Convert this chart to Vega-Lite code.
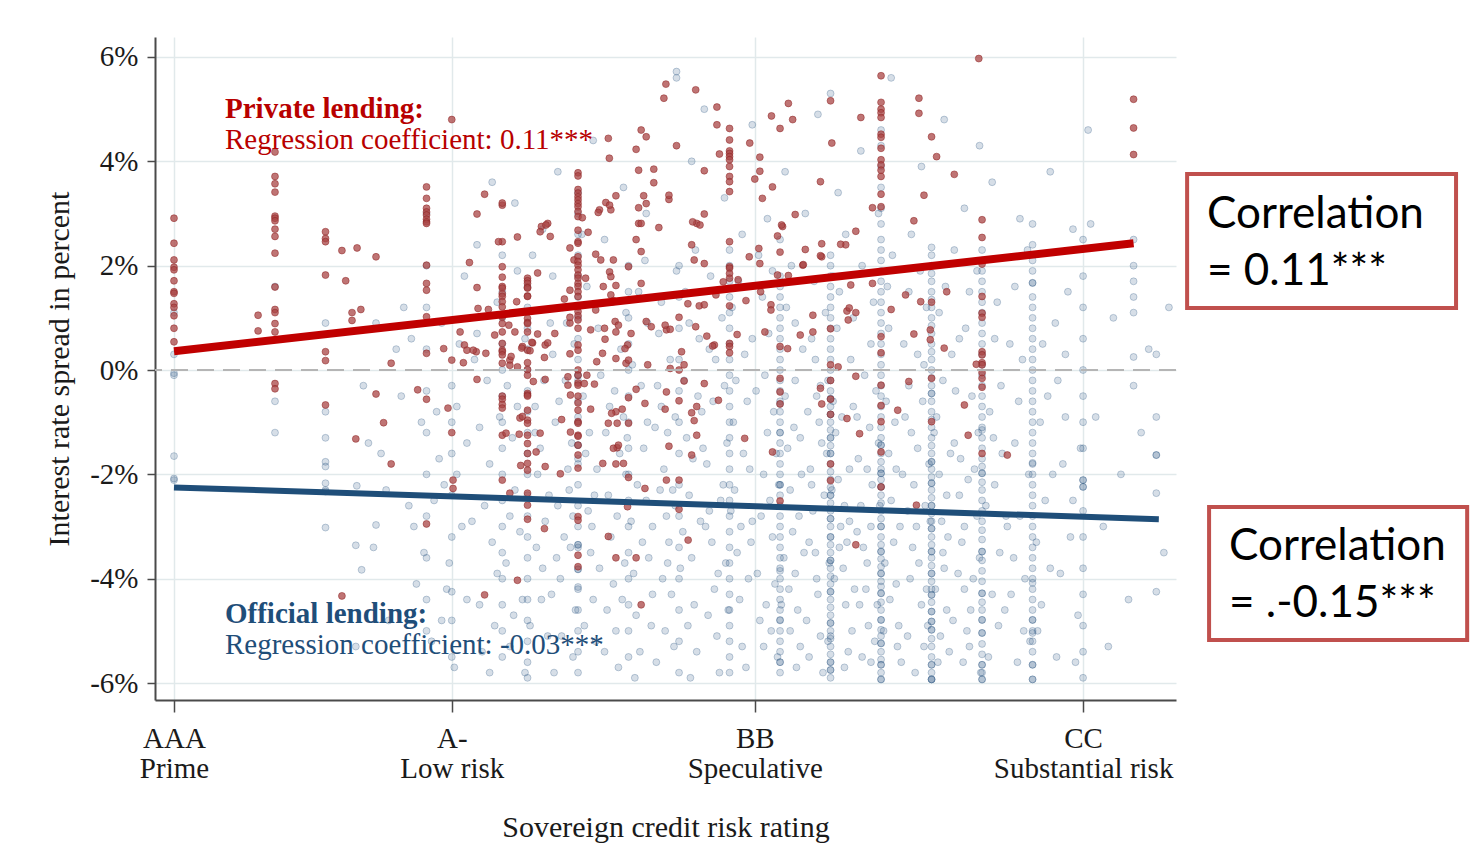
{
  "$schema": "https://vega.github.io/schema/vega-lite/v6.json",
  "width": 1021,
  "height": 663,
  "autosize": {"type": "none"},
  "padding": {"left": 155, "top": 37, "right": 295, "bottom": 148},
  "background": "white",
  "config": {
    "view": {"stroke": null},
    "font": "Liberation Serif",
    "axis": {
      "domainColor": "#4a4a4a", "domainWidth": 2,
      "tickColor": "#4a4a4a", "tickWidth": 1.5,
      "gridColor": "#e1e9eb", "gridWidth": 1.5,
      "labelFont": "Liberation Serif", "labelFontSize": 29, "labelColor": "#1a1a1a",
      "titleFont": "Liberation Serif", "titleFontSize": 30, "titleFontWeight": "normal", "titleColor": "#1a1a1a",
      "labelFlush": false, "labelOverlap": false, "labelBound": false
    },
    "axisX": {"tickSize": 12, "labelPadding": 12, "labelLineHeight": 30, "titlePadding": 29},
    "axisY": {"tickSize": 8, "labelPadding": 9, "titlePadding": 15}
  },
  "datasets": {
    "official": [
      {"x":0,"y":-0.06},{"x":0,"y":-0.1},{"x":0,"y":-1.65},{"x":0,"y":-2.08},{"x":0,"y":-2.11},{"x":0,"y":1.1},{"x":0,"y":0.3},
      {"x":4,"y":-0.6},{"x":4,"y":-1.2},{"x":4,"y":1.6},
      {"x":6,"y":-1.76},{"x":6,"y":-1.85},{"x":6,"y":-2.17},{"x":6,"y":-2.3},{"x":6,"y":-2.33},{"x":6,"y":-3.02},{"x":6,"y":-0.8},{"x":6,"y":-1.3},{"x":6,"y":0.9},
      {"x":7.24,"y":-2.22},{"x":7.2,"y":-3.36},{"x":7.43,"y":-3.83},{"x":8,"y":-2.97},
      {"x":10,"y":3.0},{"x":10,"y":2.0},{"x":10,"y":1.2},{"x":10,"y":0.4},{"x":10,"y":-0.4},{"x":10,"y":-1.2},{"x":10,"y":-2.0},{"x":10,"y":-2.8},{"x":10,"y":-3.6},{"x":10,"y":-4.4},{"x":10,"y":-5.0},
      {"x":11,"y":-0.3},{"x":11,"y":-1.0},{"x":11,"y":-1.6},{"x":11,"y":-2.4},{"x":11,"y":-3.2},{"x":11,"y":-4.25},{"x":11,"y":-4.8},{"x":11,"y":-5.5},
      {"x":13,"y":1.5},{"x":13,"y":1.0},{"x":13,"y":0.5},{"x":13,"y":0.0},{"x":13,"y":-0.5},{"x":13,"y":-1.0},{"x":13,"y":-1.5},{"x":13,"y":-2.0},{"x":13,"y":-2.5},{"x":13,"y":-3.0},{"x":13,"y":-3.5},{"x":13,"y":-4.0},{"x":13,"y":-4.5},{"x":13,"y":-5.0},{"x":13,"y":-5.5},
      {"x":14,"y":1.6},{"x":14,"y":1.2},{"x":14,"y":0.8},{"x":14,"y":0.4},{"x":14,"y":0.0},{"x":14,"y":-0.4},{"x":14,"y":-0.8},{"x":14,"y":-1.2},{"x":14,"y":-1.6},{"x":14,"y":-2.0},{"x":14,"y":-2.4},{"x":14,"y":-2.8},{"x":14,"y":-3.2},{"x":14,"y":-3.6},{"x":14,"y":-4.0},{"x":14,"y":-4.4},{"x":14,"y":-4.8},{"x":14,"y":-5.2},{"x":14,"y":-5.6},{"x":14,"y":-5.9},
      {"x":16,"y":3.4},{"x":16,"y":3.0},{"x":16,"y":2.6},{"x":16,"y":2.2},{"x":16,"y":1.8},{"x":16,"y":1.4},{"x":16,"y":1.0},{"x":16,"y":0.6},{"x":16,"y":0.2},{"x":16,"y":-0.1},{"x":16,"y":-0.1},{"x":16,"y":-0.2},{"x":16,"y":-0.6},{"x":16,"y":-0.9},{"x":16,"y":-1.0},{"x":16,"y":-1.44},{"x":16,"y":-1.44},{"x":16,"y":-1.7},{"x":16,"y":-1.8},{"x":16,"y":-2.2},{"x":16,"y":-2.6},{"x":16,"y":-3.0},{"x":16,"y":-3.35},{"x":16,"y":-3.35},{"x":16,"y":-3.4},{"x":16,"y":-3.82},{"x":16,"y":-3.82},{"x":16,"y":-4.16},{"x":16,"y":-4.2},{"x":16,"y":-4.6},{"x":16,"y":-5.0},{"x":16,"y":-5.4},{"x":16,"y":-5.8},
      {"x":18,"y":2.0},{"x":18,"y":1.5},{"x":18,"y":1.0},{"x":18,"y":0.5},{"x":18,"y":0.0},{"x":18,"y":-0.5},{"x":18,"y":-1.0},{"x":18,"y":-1.5},{"x":18,"y":-2.0},{"x":18,"y":-2.5},{"x":18,"y":-3.0},{"x":18,"y":-3.5},{"x":18,"y":-4.0},{"x":18,"y":-4.5},{"x":18,"y":-5.0},{"x":18,"y":-5.5},
      {"x":20,"y":2.0},{"x":20,"y":1.4},{"x":20,"y":0.8},{"x":20,"y":0.2},{"x":20,"y":-0.4},{"x":20,"y":-1.0},{"x":20,"y":-1.6},{"x":20,"y":-2.2},{"x":20,"y":-2.8},{"x":20,"y":-3.4},{"x":20,"y":-4.0},{"x":20,"y":-4.6},{"x":20,"y":-5.2},{"x":20,"y":-5.8},
      {"x":22,"y":2.3},{"x":22,"y":2.0},{"x":22,"y":1.7},{"x":22,"y":1.4},{"x":22,"y":1.1},{"x":22,"y":0.8},{"x":22,"y":0.5},{"x":22,"y":0.2},{"x":22,"y":-0.1},{"x":22,"y":-0.4},{"x":22,"y":-0.7},{"x":22,"y":-1.0},{"x":22,"y":-1.3},{"x":22,"y":-1.6},{"x":22,"y":-1.9},{"x":22,"y":-2.2},{"x":22,"y":-2.5},{"x":22,"y":-2.8},{"x":22,"y":-3.1},{"x":22,"y":-3.4},{"x":22,"y":-3.7},{"x":22,"y":-4.0},{"x":22,"y":-4.3},{"x":22,"y":-4.6},{"x":22,"y":-4.9},{"x":22,"y":-5.2},{"x":22,"y":-5.5},{"x":22,"y":-5.8},
      {"x":24,"y":1.8},{"x":24,"y":1.6},{"x":24,"y":1.4},{"x":24,"y":1.2},{"x":24,"y":1.0},{"x":24,"y":0.8},{"x":24,"y":0.6},{"x":24,"y":0.4},{"x":24,"y":0.2},{"x":24,"y":0.0},{"x":24,"y":-0.2},{"x":24,"y":-0.4},{"x":24,"y":-0.6},{"x":24,"y":-0.65},{"x":24,"y":-0.8},{"x":24,"y":-1.0},{"x":24,"y":-1.2},{"x":24,"y":-1.2},{"x":24,"y":-1.4},{"x":24,"y":-1.6},{"x":24,"y":-1.8},{"x":24,"y":-2.0},{"x":24,"y":-2.2},{"x":24,"y":-2.2},{"x":24,"y":-2.4},{"x":24,"y":-2.6},{"x":24,"y":-2.8},{"x":24,"y":-3.0},{"x":24,"y":-3.2},{"x":24,"y":-3.4},{"x":24,"y":-3.6},{"x":24,"y":-3.8},{"x":24,"y":-3.85},{"x":24,"y":-4.0},{"x":24,"y":-4.2},{"x":24,"y":-4.4},{"x":24,"y":-4.6},{"x":24,"y":-4.79},{"x":24,"y":-4.8},{"x":24,"y":-5.0},{"x":24,"y":-5.2},{"x":24,"y":-5.4},{"x":24,"y":-5.6},{"x":24,"y":-5.6},{"x":24,"y":-5.8},
      {"x":26,"y":2.2},{"x":26,"y":2.0},{"x":26,"y":1.8},{"x":26,"y":1.6},{"x":26,"y":1.4},{"x":26,"y":1.2},{"x":26,"y":1.0},{"x":26,"y":0.8},{"x":26,"y":0.6},{"x":26,"y":0.4},{"x":26,"y":0.2},{"x":26,"y":0.0},{"x":26,"y":-0.2},{"x":26,"y":-0.4},{"x":26,"y":-0.55},{"x":26,"y":-0.55},{"x":26,"y":-0.7},{"x":26,"y":-0.85},{"x":26,"y":-0.85},{"x":26,"y":-1.0},{"x":26,"y":-1.15},{"x":26,"y":-1.3},{"x":26,"y":-1.3},{"x":26,"y":-1.45},{"x":26,"y":-1.6},{"x":26,"y":-1.6},{"x":26,"y":-1.8},{"x":26,"y":-1.95},{"x":26,"y":-2.1},{"x":26,"y":-2.25},{"x":26,"y":-2.4},{"x":26,"y":-2.4},{"x":26,"y":-2.55},{"x":26,"y":-2.7},{"x":26,"y":-2.85},{"x":26,"y":-2.85},{"x":26,"y":-3.0},{"x":26,"y":-3.2},{"x":26,"y":-3.2},{"x":26,"y":-3.35},{"x":26,"y":-3.5},{"x":26,"y":-3.65},{"x":26,"y":-3.65},{"x":26,"y":-3.8},{"x":26,"y":-3.95},{"x":26,"y":-4.1},{"x":26,"y":-4.25},{"x":26,"y":-4.25},{"x":26,"y":-4.4},{"x":26,"y":-4.55},{"x":26,"y":-4.7},{"x":26,"y":-4.85},{"x":26,"y":-4.85},{"x":26,"y":-5.0},{"x":26,"y":-5.1},{"x":26,"y":-5.15},{"x":26,"y":-5.3},{"x":26,"y":-5.45},{"x":26,"y":-5.6},{"x":26,"y":-5.6},{"x":26,"y":-5.75},{"x":26,"y":-5.75},{"x":26,"y":-5.9},
      {"x":28,"y":4.6},{"x":28,"y":4.3},{"x":28,"y":3.9},{"x":28,"y":3.5},{"x":28,"y":3.1},{"x":28,"y":2.8},{"x":28,"y":2.5},{"x":28,"y":2.3},{"x":28,"y":2.1},{"x":28,"y":1.9},{"x":28,"y":1.7},{"x":28,"y":1.5},{"x":28,"y":1.3},{"x":28,"y":1.1},{"x":28,"y":0.9},{"x":28,"y":0.7},{"x":28,"y":0.5},{"x":28,"y":0.3},{"x":28,"y":0.1},{"x":28,"y":-0.1},{"x":28,"y":-0.3},{"x":28,"y":-0.5},{"x":28,"y":-0.7},{"x":28,"y":-0.9},{"x":28,"y":-1.1},{"x":28,"y":-1.3},{"x":28,"y":-1.44},{"x":28,"y":-1.44},{"x":28,"y":-1.6},{"x":28,"y":-1.76},{"x":28,"y":-1.9},{"x":28,"y":-1.98},{"x":28,"y":-1.98},{"x":28,"y":-2.1},{"x":28,"y":-2.24},{"x":28,"y":-2.24},{"x":28,"y":-2.4},{"x":28,"y":-2.55},{"x":28,"y":-2.7},{"x":28,"y":-2.85},{"x":28,"y":-3.0},{"x":28,"y":-3.0},{"x":28,"y":-3.2},{"x":28,"y":-3.35},{"x":28,"y":-3.48},{"x":28,"y":-3.48},{"x":28,"y":-3.62},{"x":28,"y":-3.77},{"x":28,"y":-3.9},{"x":28,"y":-3.9},{"x":28,"y":-4.05},{"x":28,"y":-4.15},{"x":28,"y":-4.28},{"x":28,"y":-4.28},{"x":28,"y":-4.45},{"x":28,"y":-4.6},{"x":28,"y":-4.79},{"x":28,"y":-4.79},{"x":28,"y":-4.98},{"x":28,"y":-5.1},{"x":28,"y":-5.24},{"x":28,"y":-5.24},{"x":28,"y":-5.4},{"x":28,"y":-5.55},{"x":28,"y":-5.65},{"x":28,"y":-5.65},{"x":28,"y":-5.8},{"x":28,"y":-5.93},{"x":28,"y":-5.93},
      {"x":30,"y":2.35},{"x":30,"y":2.2},{"x":30,"y":2.0},{"x":30,"y":1.85},{"x":30,"y":1.7},{"x":30,"y":1.5},{"x":30,"y":1.35},{"x":30,"y":1.2},{"x":30,"y":1.0},{"x":30,"y":0.85},{"x":30,"y":0.7},{"x":30,"y":0.5},{"x":30,"y":0.35},{"x":30,"y":0.2},{"x":30,"y":0.0},{"x":30,"y":-0.15},{"x":30,"y":-0.3},{"x":30,"y":-0.45},{"x":30,"y":-0.45},{"x":30,"y":-0.6},{"x":30,"y":-0.8},{"x":30,"y":-0.95},{"x":30,"y":-1.1},{"x":30,"y":-1.3},{"x":30,"y":-1.45},{"x":30,"y":-1.6},{"x":30,"y":-1.76},{"x":30,"y":-1.76},{"x":30,"y":-1.9},{"x":30,"y":-2.05},{"x":30,"y":-2.17},{"x":30,"y":-2.17},{"x":30,"y":-2.3},{"x":30,"y":-2.45},{"x":30,"y":-2.6},{"x":30,"y":-2.6},{"x":30,"y":-2.75},{"x":30,"y":-2.9},{"x":30,"y":-3.04},{"x":30,"y":-3.04},{"x":30,"y":-3.2},{"x":30,"y":-3.35},{"x":30,"y":-3.48},{"x":30,"y":-3.48},{"x":30,"y":-3.6},{"x":30,"y":-3.75},{"x":30,"y":-3.9},{"x":30,"y":-3.9},{"x":30,"y":-4.05},{"x":30,"y":-4.2},{"x":30,"y":-4.31},{"x":30,"y":-4.31},{"x":30,"y":-4.45},{"x":30,"y":-4.63},{"x":30,"y":-4.63},{"x":30,"y":-4.82},{"x":30,"y":-4.82},{"x":30,"y":-4.98},{"x":30,"y":-4.98},{"x":30,"y":-5.15},{"x":30,"y":-5.3},{"x":30,"y":-5.5},{"x":30,"y":-5.65},{"x":30,"y":-5.65},{"x":30,"y":-5.8},{"x":30,"y":-5.93},{"x":30,"y":-5.93},{"x":30,"y":-5.93},
      {"x":32,"y":2.3},{"x":32,"y":2.1},{"x":32,"y":1.9},{"x":32,"y":1.7},{"x":32,"y":1.5},{"x":32,"y":1.3},{"x":32,"y":1.1},{"x":32,"y":0.9},{"x":32,"y":0.7},{"x":32,"y":0.5},{"x":32,"y":0.3},{"x":32,"y":0.1},{"x":32,"y":-0.1},{"x":32,"y":-0.3},{"x":32,"y":-0.5},{"x":32,"y":-0.7},{"x":32,"y":-0.9},{"x":32,"y":-1.1},{"x":32,"y":-1.15},{"x":32,"y":-1.3},{"x":32,"y":-1.5},{"x":32,"y":-1.7},{"x":32,"y":-1.85},{"x":32,"y":-1.98},{"x":32,"y":-1.98},{"x":32,"y":-2.15},{"x":32,"y":-2.3},{"x":32,"y":-2.5},{"x":32,"y":-2.7},{"x":32,"y":-2.9},{"x":32,"y":-3.07},{"x":32,"y":-3.25},{"x":32,"y":-3.48},{"x":32,"y":-3.48},{"x":32,"y":-3.65},{"x":32,"y":-3.85},{"x":32,"y":-4.05},{"x":32,"y":-4.28},{"x":32,"y":-4.28},{"x":32,"y":-4.45},{"x":32,"y":-4.6},{"x":32,"y":-4.79},{"x":32,"y":-4.79},{"x":32,"y":-5.04},{"x":32,"y":-5.04},{"x":32,"y":-5.25},{"x":32,"y":-5.45},{"x":32,"y":-5.65},{"x":32,"y":-5.65},{"x":32,"y":-5.8},{"x":32,"y":-5.93},{"x":32,"y":-5.93},
      {"x":34,"y":2.8},{"x":34,"y":2.4},{"x":34,"y":2.1},{"x":34,"y":1.9},{"x":34,"y":1.67},{"x":34,"y":1.67},{"x":34,"y":1.4},{"x":34,"y":1.2},{"x":34,"y":1.0},{"x":34,"y":0.8},{"x":34,"y":0.6},{"x":34,"y":0.4},{"x":34,"y":0.2},{"x":34,"y":0.0},{"x":34,"y":-0.2},{"x":34,"y":-0.4},{"x":34,"y":-0.6},{"x":34,"y":-0.8},{"x":34,"y":-1.0},{"x":34,"y":-1.2},{"x":34,"y":-1.4},{"x":34,"y":-1.6},{"x":34,"y":-1.78},{"x":34,"y":-1.8},{"x":34,"y":-2.0},{"x":34,"y":-2.2},{"x":34,"y":-2.4},{"x":34,"y":-2.6},{"x":34,"y":-2.8},{"x":34,"y":-3.0},{"x":34,"y":-3.2},{"x":34,"y":-3.4},{"x":34,"y":-3.6},{"x":34,"y":-3.8},{"x":34,"y":-4.0},{"x":34,"y":-4.08},{"x":34,"y":-4.2},{"x":34,"y":-4.4},{"x":34,"y":-4.6},{"x":34,"y":-4.79},{"x":34,"y":-4.79},{"x":34,"y":-5.0},{"x":34,"y":-5.04},{"x":34,"y":-5.2},{"x":34,"y":-5.4},{"x":34,"y":-5.65},{"x":34,"y":-5.65},{"x":34,"y":-5.93},{"x":34,"y":-5.93},
      {"x":36,"y":2.5},{"x":36,"y":1.8},{"x":36,"y":1.2},{"x":36,"y":0.6},{"x":36,"y":0.0},{"x":36,"y":-0.5},{"x":36,"y":-1.0},{"x":36,"y":-1.5},{"x":36,"y":-2.11},{"x":36,"y":-2.11},{"x":36,"y":-2.24},{"x":36,"y":-2.24},{"x":36,"y":-2.7},{"x":36,"y":-3.2},{"x":36,"y":-3.8},{"x":36,"y":-4.3},{"x":36,"y":-4.9},{"x":36,"y":-5.4},{"x":36,"y":-5.9},
      {"x":38,"y":2.0},{"x":38,"y":1.7},{"x":38,"y":1.4},{"x":38,"y":1.1},{"x":38,"y":0.25},{"x":38,"y":-0.3},
      {"x":38.9,"y":-1.63},{"x":38.9,"y":-1.63},{"x":38.9,"y":-2.36},{"x":38.9,"y":-4.25},{"x":38.9,"y":0.3},{"x":38.9,"y":-0.9},
      {"x":7.5,"y":-0.3},{"x":8.2,"y":-1.6},{"x":8.8,"y":0.4},{"x":9.3,"y":-2.6},{"x":7.9,"y":-3.4},{"x":9.6,"y":-4.1},{"x":8.5,"y":-4.8},{"x":9.1,"y":1.2},{"x":7.2,"y":-5.3},{"x":9.8,"y":-1.0},{"x":8.0,"y":0.9},{"x":9.5,"y":-3.0},
      {"x":8.4,"y":-2.3},{"x":9.0,"y":-0.5},{"x":9.9,"y":-3.5},{"x":10.3,"y":-2.5},{"x":10.6,"y":-4.8},{"x":9.4,"y":0.6},{"x":7.7,"y":-1.4},
      {"x":10.4,"y":-0.8},{"x":10.7,"y":-2.2},{"x":10.9,"y":-3.7},{"x":11.3,"y":0.5},{"x":11.6,"y":-1.4},{"x":11.8,"y":-2.9},{"x":12.1,"y":-4.5},{"x":12.4,"y":-0.2},{"x":12.6,"y":-3.3},{"x":12.8,"y":1.3},{"x":10.2,"y":-5.2},{"x":11.1,"y":-5.7},{"x":12.2,"y":-5.4},{"x":11.5,"y":1.8},{"x":12.5,"y":-1.8},{"x":10.6,"y":0.9},{"x":11.9,"y":0.2},{"x":12.3,"y":-2.6},{"x":10.8,"y":-4.2},{"x":11.4,"y":-3.0},{"x":12.7,"y":-4.9},{"x":12.0,"y":2.4},{"x":11.2,"y":-0.7},{"x":10.5,"y":-1.7},{"x":12.9,"y":-0.9},
      {"x":11.2,"y":-2.0},{"x":11.6,"y":-4.4},{"x":12.1,"y":-1.1},{"x":12.5,"y":-5.8},{"x":12.8,"y":-3.9},{"x":13.3,"y":-2.8},{"x":13.6,"y":-0.7},{"x":13.9,"y":-5.8},{"x":14.3,"y":-1.2},{"x":14.55,"y":-4.4},{"x":14.85,"y":-2.4},{"x":15.15,"y":-3.6},{"x":15.35,"y":-5.1},{"x":15.55,"y":0.9},{"x":15.8,"y":-2.8},{"x":16.25,"y":-4.9},{"x":16.45,"y":-1.2},{"x":16.65,"y":-2.4},{"x":16.85,"y":-3.8},{"x":17.05,"y":-5.4},{"x":17.25,"y":-0.7},{"x":17.55,"y":-2.8},{"x":17.75,"y":-4.4},{"x":17.95,"y":-1.3},{"x":18.25,"y":-5.9},{"x":18.55,"y":-3.3},{"x":18.75,"y":-1.0},{"x":18.95,"y":-4.3},{"x":19.25,"y":-2.3},{"x":19.55,"y":-3.7},{"x":19.85,"y":-0.9},{"x":12.0,"y":0.7},{"x":13.0,"y":2.2},{"x":15.0,"y":1.8},{"x":17.9,"y":1.1},{"x":19.3,"y":1.3},
      {"x":13.2,"y":-0.3},{"x":13.4,"y":-1.3},{"x":13.5,"y":-2.3},{"x":13.7,"y":-3.1},{"x":13.8,"y":-4.4},{"x":13.9,"y":0.6},{"x":14.3,"y":-0.7},{"x":14.4,"y":-2.0},{"x":14.6,"y":-3.8},{"x":14.8,"y":-5.1},{"x":15.0,"y":0.3},{"x":15.1,"y":-1.0},{"x":15.2,"y":-2.6},{"x":15.3,"y":-4.0},{"x":15.4,"y":1.2},{"x":15.5,"y":-0.2},{"x":15.6,"y":-1.9},{"x":15.7,"y":-3.4},{"x":15.8,"y":-5.5},{"x":15.9,"y":-4.6},{"x":13.3,"y":-5.3},{"x":13.6,"y":1.9},{"x":14.1,"y":-4.9},{"x":14.2,"y":2.2},{"x":14.5,"y":-1.5},{"x":14.7,"y":-2.9},{"x":14.9,"y":0.9},{"x":15.25,"y":-0.6},{"x":15.45,"y":-3.2},{"x":15.75,"y":-1.4},{"x":13.15,"y":-3.7},{"x":13.45,"y":-4.7},{"x":14.35,"y":-3.4},{"x":14.65,"y":-0.2},{"x":14.95,"y":-4.3},{"x":15.05,"y":-5.8},{"x":15.65,"y":-2.3},{"x":15.85,"y":0.5},
      {"x":16.2,"y":-0.5},{"x":16.3,"y":-1.6},{"x":16.4,"y":-2.7},{"x":16.5,"y":-3.5},{"x":16.6,"y":-4.4},{"x":16.7,"y":-5.2},{"x":16.8,"y":0.8},{"x":16.9,"y":-0.1},{"x":17.1,"y":-1.2},{"x":17.2,"y":-2.4},{"x":17.3,"y":-3.2},{"x":17.4,"y":-4.1},{"x":17.5,"y":-5.0},{"x":17.6,"y":-5.7},{"x":17.7,"y":0.4},{"x":17.8,"y":-0.9},{"x":17.9,"y":-2.0},{"x":18.1,"y":-2.9},{"x":18.2,"y":-3.9},{"x":18.3,"y":-4.7},{"x":18.4,"y":1.5},{"x":18.5,"y":-0.3},{"x":18.6,"y":-1.5},{"x":18.7,"y":-2.5},{"x":18.8,"y":-3.6},{"x":18.9,"y":-4.9},{"x":19.1,"y":-5.6},{"x":19.2,"y":0.7},{"x":19.3,"y":-0.7},{"x":19.4,"y":-1.9},{"x":19.5,"y":-2.8},{"x":19.6,"y":-3.3},{"x":19.7,"y":-4.3},{"x":19.8,"y":-5.3},{"x":19.9,"y":1.9},{"x":16.35,"y":1.6},{"x":16.75,"y":-1.9},{"x":17.05,"y":2.5},{"x":17.45,"y":-0.4},{"x":17.85,"y":-3.7},{"x":18.15,"y":0.1},{"x":18.45,"y":-5.4},{"x":18.75,"y":0.9},{"x":19.05,"y":-1.1},{"x":19.35,"y":-4.0},{"x":19.65,"y":0.2},{"x":16.55,"y":-3.0},{"x":17.15,"y":-4.6},{"x":17.65,"y":-1.6},{"x":18.35,"y":-2.2},{"x":18.95,"y":-3.0},{"x":19.45,"y":-5.0},{"x":16.15,"y":2.6},{"x":17.35,"y":1.3},{"x":18.65,"y":2.1},{"x":19.75,"y":-2.3},
      {"x":19.15,"y":-0.3},{"x":19.55,"y":-1.2},{"x":19.85,"y":-2.6},{"x":20.05,"y":-3.8},{"x":20.35,"y":-4.9},{"x":20.75,"y":-0.5},{"x":20.95,"y":-1.5},{"x":21.05,"y":-3.0},{"x":21.55,"y":-3.9},{"x":21.65,"y":-2.5},{"x":21.95,"y":-4.6},{"x":22.25,"y":-0.2},{"x":22.55,"y":-1.6},{"x":22.85,"y":-3.3},{"x":23.35,"y":-5.3},{"x":23.75,"y":-0.8},{"x":23.95,"y":-2.2},{"x":24.05,"y":-4.5},{"x":24.4,"y":-5.0},{"x":24.6,"y":-0.2},{"x":24.8,"y":-1.3},{"x":24.95,"y":-3.5},{"x":25.15,"y":-5.5},{"x":25.25,"y":-2.2},{"x":25.45,"y":-4.0},{"x":25.6,"y":-0.3},{"x":25.85,"y":-1.6},{"x":25.9,"y":-5.2},{"x":26.1,"y":-0.6},{"x":26.35,"y":-3.4},{"x":26.55,"y":-5.7},{"x":26.75,"y":-2.9},{"x":26.95,"y":-4.2},{"x":27.05,"y":-0.9},{"x":27.25,"y":-5.5},{"x":27.45,"y":-1.9},{"x":27.6,"y":-3.0},{"x":27.85,"y":-4.5},{"x":27.95,"y":-2.6},{"x":28.1,"y":-5.0},{"x":28.35,"y":-4.4},{"x":28.6,"y":-1.9},{"x":28.75,"y":-3.0},{"x":28.95,"y":-0.9},{"x":29.05,"y":-5.1},{"x":29.25,"y":-3.4},{"x":29.45,"y":-1.5},{"x":29.65,"y":-0.6},{"x":29.8,"y":-4.2},{"x":29.95,"y":-2.9},{"x":30.1,"y":-1.2},{"x":30.25,"y":-5.6},{"x":30.45,"y":-3.5},{"x":30.6,"y":-2.4},{"x":30.85,"y":-4.8},{"x":30.95,"y":-0.4},{"x":31.15,"y":-1.7},{"x":31.3,"y":-3.0},{"x":31.5,"y":-5.3},{"x":31.65,"y":-4.0},{"x":31.85,"y":-1.2},{"x":31.95,"y":-5.8},{"x":32.15,"y":-2.6},{"x":32.25,"y":-5.5},{"x":32.45,"y":-1.3},{"x":32.65,"y":-4.9},{"x":32.75,"y":-0.3},{"x":32.95,"y":-2.8},{"x":33.15,"y":-4.3},{"x":33.25,"y":-3.6},{"x":33.45,"y":-0.6},{"x":33.65,"y":-5.0},{"x":33.85,"y":-2.0},{"x":34.15,"y":-3.3},{"x":34.35,"y":-4.5},{"x":34.6,"y":-0.5},{"x":34.8,"y":-2.0},{"x":34.95,"y":-5.5},{"x":35.1,"y":-3.9},{"x":35.3,"y":-0.9},{"x":35.7,"y":-5.6},{"x":35.9,"y":-1.5},
      {"x":20.4,"y":0.9},{"x":21.2,"y":0.4},{"x":22.1,"y":1.2},{"x":22.9,"y":0.6},{"x":23.7,"y":1.9},{"x":24.6,"y":0.9},{"x":25.4,"y":0.2},{"x":26.1,"y":1.8},{"x":26.9,"y":1.0},{"x":27.6,"y":0.5},{"x":28.3,"y":0.8},{"x":29.1,"y":1.5},{"x":29.7,"y":0.1},{"x":30.3,"y":1.1},{"x":31.1,"y":0.6},{"x":31.8,"y":1.9},{"x":32.5,"y":0.6},{"x":33.3,"y":1.6},{"x":34.4,"y":0.5},{"x":35.3,"y":0.3},{"x":24.0,"y":2.5},{"x":26.6,"y":2.6},{"x":30.9,"y":2.3},{"x":33.8,"y":2.3},{"x":22.5,"y":2.6},
      {"x":20.2,"y":-0.2},{"x":20.3,"y":-1.3},{"x":20.4,"y":-2.4},{"x":20.5,"y":-3.6},{"x":20.6,"y":-4.5},{"x":20.7,"y":-5.4},{"x":20.8,"y":0.6},{"x":20.9,"y":-0.8},{"x":21.1,"y":-1.8},{"x":21.2,"y":-2.7},{"x":21.3,"y":-3.3},{"x":21.4,"y":-4.2},{"x":21.5,"y":-5.1},{"x":21.6,"y":-5.8},{"x":21.7,"y":1.0},{"x":21.8,"y":-0.3},{"x":21.9,"y":-1.4},{"x":22.2,"y":-2.3},{"x":22.3,"y":-3.5},{"x":22.4,"y":-4.4},{"x":22.5,"y":-5.3},{"x":22.6,"y":0.3},{"x":22.7,"y":-0.6},{"x":22.8,"y":-1.9},{"x":22.9,"y":-2.9},{"x":23.1,"y":-3.9},{"x":23.2,"y":-4.8},{"x":23.3,"y":1.4},{"x":23.4,"y":-0.1},{"x":23.5,"y":-1.2},{"x":23.6,"y":-2.5},{"x":23.7,"y":-3.2},{"x":23.8,"y":-4.1},{"x":23.9,"y":-5.5},{"x":20.25,"y":1.5},{"x":20.55,"y":-1.7},{"x":20.85,"y":-2.9},{"x":21.15,"y":-4.7},{"x":21.45,"y":0.2},{"x":21.75,"y":-2.2},{"x":22.15,"y":-1.0},{"x":22.45,"y":-3.0},{"x":22.75,"y":-4.0},{"x":23.05,"y":-0.4},{"x":23.35,"y":-2.0},{"x":23.65,"y":-5.0},{"x":20.65,"y":2.3},{"x":21.25,"y":1.8},{"x":22.35,"y":1.7},{"x":23.15,"y":2.2},{"x":23.55,"y":0.7},{"x":20.45,"y":-5.9},{"x":21.85,"y":-3.7},{"x":22.65,"y":-5.7},{"x":23.45,"y":-4.5},{"x":20.15,"y":-3.1},{"x":21.35,"y":-0.6},{"x":22.05,"y":-2.7},{"x":23.25,"y":-2.8},{"x":23.85,"y":-1.6},
      {"x":24.2,"y":-0.5},{"x":24.3,"y":-1.5},{"x":24.4,"y":-2.3},{"x":24.5,"y":-3.1},{"x":24.6,"y":-3.9},{"x":24.7,"y":-4.6},{"x":24.8,"y":-5.3},{"x":24.9,"y":0.4},{"x":25.1,"y":-0.8},{"x":25.2,"y":-1.9},{"x":25.3,"y":-2.7},{"x":25.4,"y":-3.5},{"x":25.5,"y":-4.3},{"x":25.6,"y":-5.1},{"x":25.7,"y":-5.8},{"x":25.8,"y":1.1},{"x":25.9,"y":-0.2},{"x":26.2,"y":-1.2},{"x":26.3,"y":-2.1},{"x":26.4,"y":-3.0},{"x":26.5,"y":-3.8},{"x":26.6,"y":-4.5},{"x":26.7,"y":-5.4},{"x":26.8,"y":0.2},{"x":26.9,"y":-0.7},{"x":27.1,"y":-1.7},{"x":27.2,"y":-2.6},{"x":27.3,"y":-3.4},{"x":27.4,"y":-4.2},{"x":27.5,"y":-4.9},{"x":27.6,"y":-5.6},{"x":27.7,"y":1.3},{"x":27.8,"y":-0.4},{"x":27.9,"y":-1.4},{"x":24.25,"y":1.2},{"x":24.55,"y":-1.1},{"x":24.85,"y":-2.0},{"x":25.15,"y":-3.3},{"x":25.45,"y":-0.5},{"x":25.75,"y":-2.4},{"x":26.15,"y":-4.0},{"x":26.45,"y":-0.9},{"x":26.75,"y":-1.9},{"x":27.05,"y":-3.1},{"x":27.35,"y":-0.1},{"x":27.65,"y":-2.2},{"x":24.35,"y":-4.2},{"x":24.65,"y":-5.7},{"x":25.05,"y":-4.8},{"x":25.35,"y":1.7},{"x":25.65,"y":-1.4},{"x":25.95,"y":-3.7},{"x":26.25,"y":0.8},{"x":26.55,"y":-2.6},{"x":26.85,"y":-5.0},{"x":27.15,"y":-4.5},{"x":27.45,"y":-3.7},{"x":27.75,"y":-5.2},{"x":24.45,"y":2.0},{"x":25.25,"y":0.6},{"x":26.35,"y":1.5},{"x":27.25,"y":2.0},{"x":24.15,"y":-3.6},{"x":24.75,"y":-2.8},{"x":25.55,"y":-1.0},{"x":26.05,"y":-2.3},{"x":26.65,"y":-3.3},{"x":27.55,"y":-1.1},
      {"x":28.2,"y":-0.6},{"x":28.3,"y":-1.6},{"x":28.4,"y":-2.5},{"x":28.5,"y":-3.3},{"x":28.6,"y":-4.1},{"x":28.7,"y":-4.9},{"x":28.8,"y":-5.6},{"x":28.9,"y":0.5},{"x":29.1,"y":-0.3},{"x":29.2,"y":-1.2},{"x":29.3,"y":-2.2},{"x":29.4,"y":-3.0},{"x":29.5,"y":-3.7},{"x":29.6,"y":-4.5},{"x":29.7,"y":-5.3},{"x":29.8,"y":1.2},{"x":29.9,"y":-1.8},{"x":30.2,"y":-0.9},{"x":30.3,"y":-2.0},{"x":30.4,"y":-2.9},{"x":30.5,"y":-3.8},{"x":30.6,"y":-4.6},{"x":30.7,"y":-5.4},{"x":30.8,"y":0.3},{"x":30.9,"y":-1.4},{"x":31.1,"y":-2.4},{"x":31.2,"y":-3.3},{"x":31.3,"y":-4.2},{"x":31.4,"y":-5.0},{"x":31.6,"y":-0.5},{"x":31.7,"y":-1.9},{"x":31.8,"y":-2.8},{"x":31.9,"y":-3.6},{"x":28.25,"y":1.6},{"x":28.55,"y":-1.0},{"x":28.85,"y":-2.0},{"x":29.15,"y":-4.0},{"x":29.45,"y":0.3},{"x":29.75,"y":-2.6},{"x":30.15,"y":-4.2},{"x":30.45,"y":-0.2},{"x":30.75,"y":-1.6},{"x":31.05,"y":-3.9},{"x":31.35,"y":0.8},{"x":31.55,"y":-4.6},{"x":28.45,"y":2.2},{"x":29.55,"y":1.9},{"x":30.55,"y":1.6},{"x":31.5,"y":1.5},{"x":28.65,"y":-5.3},{"x":29.35,"y":-5.8},{"x":30.35,"y":-5.1},{"x":31.25,"y":-5.6},{"x":28.15,"y":-3.7},{"x":29.05,"y":-2.7},{"x":29.85,"y":-4.9},{"x":30.65,"y":-3.2},{"x":31.45,"y":-2.1},
      {"x":32.3,"y":-0.8},{"x":32.5,"y":-2.2},{"x":32.7,"y":-3.5},{"x":32.9,"y":-4.6},{"x":33.1,"y":0.5},{"x":33.3,"y":-1.4},{"x":33.5,"y":-2.8},{"x":33.7,"y":-4.0},{"x":33.9,"y":-5.2},{"x":34.3,"y":-1.0},{"x":34.5,"y":-2.5},{"x":34.7,"y":-3.8},{"x":34.9,"y":0.9},{"x":35.2,"y":-1.8},{"x":35.5,"y":-3.2},{"x":35.8,"y":-4.7},{"x":32.6,"y":1.3},{"x":33.4,"y":-5.6},{"x":34.2,"y":-5.0},{"x":35.0,"y":-0.2},{"x":35.4,"y":1.5},{"x":32.8,"y":-1.6},{"x":33.6,"y":0.2},{"x":35.6,"y":-2.5},{"x":33.0,"y":-3.0},{"x":32.4,"y":-4.3},
      {"x":36.5,"y":-0.9},{"x":36.8,"y":-3.0},{"x":37.2,"y":1.0},{"x":37.5,"y":-2.0},{"x":37.8,"y":-4.4},{"x":38.3,"y":-1.2},{"x":38.6,"y":0.4},{"x":39.2,"y":-3.5},{"x":39.4,"y":1.2},{"x":37.0,"y":-5.3},{"x":36.3,"y":2.8},{"x":38.0,"y":2.5},
      {"x":13.5,"y":3.2},{"x":15.2,"y":3.8},{"x":16.6,"y":4.4},{"x":17.8,"y":3.5},{"x":19.9,"y":5.72},{"x":19.9,"y":5.6},{"x":20.5,"y":4.0},{"x":21.8,"y":3.3},{"x":22.9,"y":4.7},{"x":24.2,"y":3.8},{"x":25.5,"y":4.9},{"x":26.3,"y":3.4},{"x":27.2,"y":4.2},{"x":28.4,"y":5.6},{"x":29.6,"y":3.9},{"x":30.5,"y":4.8},{"x":31.3,"y":3.1},{"x":32.4,"y":3.6},{"x":33.5,"y":2.9},{"x":34.7,"y":3.8},{"x":35.6,"y":2.7},{"x":36.2,"y":4.6},{"x":23.5,"y":2.9},{"x":18.7,"y":3.0},{"x":14.6,"y":2.7},{"x":12.6,"y":3.6},{"x":25.0,"y":3.0},{"x":27.9,"y":3.0},{"x":29.2,"y":2.6},{"x":31.9,"y":4.3},{"x":26.0,"y":5.3},{"x":21.0,"y":5.0}
    ],
    "private": [
      {"x":0,"y":2.91},{"x":0,"y":2.43},{"x":0,"y":2.11},{"x":0,"y":1.97},{"x":0,"y":1.92},{"x":0,"y":1.71},{"x":0,"y":1.5},{"x":0,"y":1.47},{"x":0,"y":1.27},{"x":0,"y":1.2},{"x":0,"y":1.04},{"x":0,"y":0.8},{"x":0,"y":0.54},
      {"x":4,"y":4.18},{"x":4,"y":3.71},{"x":4,"y":3.57},{"x":4,"y":3.41},{"x":4,"y":2.95},{"x":4,"y":2.91},{"x":4,"y":2.86},{"x":4,"y":2.7},{"x":4,"y":2.56},{"x":4,"y":2.24},{"x":4,"y":1.59},{"x":4,"y":1.16},{"x":4,"y":1.1},{"x":4,"y":0.89},{"x":4,"y":0.73},{"x":4,"y":-0.26},{"x":4,"y":-0.36},
      {"x":6,"y":2.65},{"x":6,"y":2.52},{"x":6,"y":2.46},{"x":6,"y":1.82},{"x":6,"y":0.35},{"x":6,"y":0.18},{"x":6,"y":-0.67},
      {"x":3.33,"y":1.05},{"x":3.33,"y":0.75},{"x":6.65,"y":2.29},{"x":7.25,"y":2.34},{"x":8,"y":2.17},{"x":6.8,"y":1.71},{"x":7.05,"y":1.1},{"x":7.4,"y":1.16},{"x":7.05,"y":0.95},{"x":8.6,"y":0.13},{"x":7.2,"y":-1.32},{"x":8,"y":-0.46},{"x":8.3,"y":-1.01},{"x":8.6,"y":-1.8},{"x":6.65,"y":-4.33},{"x":9.65,"y":-0.38},{"x":10,"y":-0.56},{"x":10,"y":-2.95},
      {"x":10,"y":3.51},{"x":10,"y":3.29},{"x":10,"y":3.1},{"x":10,"y":3.03},{"x":10,"y":2.97},{"x":10,"y":2.89},{"x":10,"y":2.84},{"x":10,"y":2.81},{"x":10,"y":2.01},{"x":10,"y":1.66},{"x":10,"y":1.53},{"x":10,"y":1.02},{"x":10,"y":0.32},
      {"x":11,"y":4.8},{"x":11.7,"y":2.06},{"x":12,"y":2.99},{"x":12.3,"y":3.37},{"x":11,"y":-1.2},{"x":11.05,"y":-2.11},{"x":11.05,"y":-2.27},{"x":10.85,"y":-0.73},{"x":12.04,"y":1.18},{"x":12.45,"y":1.16},{"x":12.7,"y":0.67},{"x":11.33,"y":0.73},{"x":10.68,"y":0.41},{"x":11.5,"y":0.48},{"x":11.6,"y":0.38},{"x":11.97,"y":0.35},{"x":12.35,"y":0.32},{"x":11,"y":0.19},{"x":11.46,"y":0.14},{"x":12,"y":1.58},{"x":12,"y":-0.18},{"x":12.3,"y":-4.31},{"x":11.85,"y":0.38},
      {"x":13,"y":3.16},{"x":13,"y":3.2},{"x":13,"y":2.46},{"x":13,"y":1.98},{"x":13,"y":1.78},{"x":13,"y":1.6},{"x":13,"y":1.57},{"x":13,"y":1.46},{"x":13,"y":1.41},{"x":13,"y":1.31},{"x":13,"y":1.21},{"x":13,"y":1.05},{"x":13,"y":1.02},{"x":13,"y":0.89},{"x":13,"y":0.73},{"x":13,"y":0.51},{"x":13,"y":0.38},{"x":13,"y":0.35},{"x":13,"y":0.29},{"x":13,"y":0.13},{"x":13,"y":-0.5},{"x":13,"y":-0.56},{"x":13,"y":-0.66},{"x":13,"y":-0.73},{"x":13,"y":-1.25},{"x":13,"y":-2.11},
      {"x":12.85,"y":2.46},{"x":13.6,"y":2.55},{"x":13.26,"y":0.86},{"x":13.5,"y":0.73},{"x":13.3,"y":0.19},{"x":13.8,"y":0.45},{"x":13.57,"y":1.31},{"x":13.35,"y":0.26},{"x":13.77,"y":0.42},{"x":13.6,"y":0.06},{"x":13.3,"y":0.09},{"x":13.7,"y":-0.92},{"x":13.8,"y":-0.89},{"x":13.15,"y":-1.21},{"x":13.67,"y":-1.23},{"x":13.6,"y":-4.03},{"x":13.3,"y":-2.36},{"x":13.73,"y":-1.83},
      {"x":14,"y":1.76},{"x":14,"y":1.71},{"x":14,"y":1.66},{"x":14,"y":1.58},{"x":14,"y":1.57},{"x":14,"y":1.42},{"x":14,"y":1.41},{"x":14,"y":0.99},{"x":14,"y":0.91},{"x":14,"y":0.89},{"x":14,"y":0.73},{"x":14,"y":0.38},{"x":14,"y":0.14},{"x":14,"y":0.01},{"x":14,"y":-0.1},{"x":14,"y":-0.45},{"x":14,"y":-0.48},{"x":14,"y":-0.5},{"x":14,"y":-0.77},{"x":14,"y":-0.96},{"x":14,"y":-1.02},{"x":14,"y":-1.25},{"x":14,"y":-1.41},{"x":14,"y":-1.6},{"x":14,"y":-1.79},{"x":14,"y":-1.92},{"x":14,"y":-2.36},{"x":14,"y":-2.59},{"x":14,"y":-2.86},
      {"x":14.4,"y":1.86},{"x":14.55,"y":2.75},{"x":14.8,"y":2.81},{"x":14.9,"y":2.56},{"x":14.5,"y":2.65},{"x":14.73,"y":2.78},{"x":14.2,"y":0.52},{"x":14.4,"y":0.69},{"x":14.7,"y":0.48},{"x":14.17,"y":0.53},{"x":14.1,"y":0.37},{"x":14.67,"y":0.24},{"x":14.23,"y":-0.22},{"x":14.7,"y":-0.18},{"x":14.5,"y":-1.21},{"x":14.67,"y":-3.04},{"x":14.34,"y":-1.57},{"x":14.7,"y":-1.85},{"x":15.08,"y":0.7},{"x":15.68,"y":0.31},{"x":15.68,"y":0.9},{"x":15.84,"y":2.11},{"x":15.68,"y":2.34},{"x":15.68,"y":1.53},{"x":15.46,"y":1.36},{"x":15.68,"y":1.01},{"x":15.35,"y":-0.95},{"x":15.6,"y":-0.13},{"x":15.6,"y":-0.29},{"x":15.7,"y":-0.48},{"x":15.7,"y":-1.19},{"x":15.3,"y":-1.99},{"x":14.8,"y":0.52},
      {"x":16,"y":3.78},{"x":16,"y":3.72},{"x":16,"y":3.46},{"x":16,"y":3.39},{"x":16,"y":3.32},{"x":16,"y":3.26},{"x":16,"y":3.19},{"x":16,"y":3.13},{"x":16,"y":3.04},{"x":16,"y":2.94},{"x":16,"y":2.68},{"x":16,"y":2.46},{"x":16,"y":2.43},{"x":16,"y":2.17},{"x":16,"y":2.08},{"x":16,"y":2.01},{"x":16,"y":1.92},{"x":16,"y":1.82},{"x":16,"y":1.76},{"x":16,"y":1.66},{"x":16,"y":1.6},{"x":16,"y":1.5},{"x":16,"y":1.41},{"x":16,"y":1.21},{"x":16,"y":1.12},{"x":16,"y":1.04},{"x":16,"y":0.96},{"x":16,"y":0.8},{"x":16,"y":0.48},{"x":16,"y":0.38},{"x":16,"y":0.0},{"x":16,"y":-0.1},{"x":16,"y":-0.25},{"x":16,"y":-0.29},{"x":16,"y":-0.5},{"x":16,"y":-0.63},{"x":16,"y":-0.77},{"x":16,"y":-0.99},{"x":16,"y":-1.02},{"x":16,"y":-1.25},{"x":16,"y":-1.27},{"x":16,"y":-1.44},{"x":16,"y":-1.63},{"x":16,"y":-1.88},{"x":16,"y":-2.81},{"x":16,"y":-2.88},{"x":16,"y":-3.55},{"x":16,"y":-3.77},
      {"x":17.2,"y":4.44},{"x":17.24,"y":4.06},{"x":17.5,"y":3.34},{"x":17.1,"y":3.21},{"x":16.85,"y":3.07},{"x":17.3,"y":3.07},{"x":16.4,"y":2.64},{"x":16.7,"y":2.22},{"x":16.9,"y":2.11},{"x":17.4,"y":2.11},{"x":16.3,"y":1.76},{"x":17.5,"y":1.62},{"x":16.7,"y":1.15},{"x":17.05,"y":0.8},{"x":17.5,"y":0.73},{"x":16.5,"y":0.77},{"x":16.97,"y":0.32},{"x":17.96,"y":0.48},{"x":17.9,"y":0.13},{"x":17.5,"y":0.22},{"x":17.25,"y":3.16},{"x":16.8,"y":3.02},{"x":16.17,"y":2.92},{"x":17,"y":1.6},{"x":17.4,"y":1.33},{"x":17.47,"y":0.93},{"x":16.74,"y":0.16},{"x":17.25,"y":1.88},{"x":17.3,"y":1.79},{"x":17.3,"y":1.44},{"x":17.6,"y":0.86},{"x":17.07,"y":0.59},{"x":17.86,"y":0.41},{"x":18,"y":0.19},{"x":18,"y":1.98},
      {"x":18.5,"y":4.6},{"x":18.7,"y":4.47},{"x":19.4,"y":5.21},{"x":19.48,"y":5.48},{"x":20.66,"y":5.37},{"x":19.9,"y":4.3},{"x":18.3,"y":4.23},{"x":18.4,"y":3.83},{"x":19,"y":3.85},{"x":19,"y":3.59},{"x":18.6,"y":3.34},{"x":18.4,"y":3.11},{"x":19.6,"y":3.27},{"x":19.2,"y":2.73},{"x":18.4,"y":2.81},{"x":18.5,"y":2.81},{"x":20.7,"y":2.81},{"x":21,"y":2.99},{"x":21,"y":3.82},{"x":21.5,"y":5.04},{"x":21.5,"y":4.7},{"x":21.6,"y":4.14},{"x":18.3,"y":2.5},{"x":18.5,"y":2.27},{"x":20.6,"y":2.11},{"x":21,"y":2.04},{"x":20.5,"y":2.4},{"x":18.5,"y":1.66},{"x":20.35,"y":1.27},{"x":20.8,"y":1.23},{"x":20,"y":1.01},{"x":18.7,"y":0.93},{"x":19.5,"y":0.77},{"x":18.1,"y":0.7},{"x":20.66,"y":0.83},{"x":21.1,"y":0.65},{"x":21.4,"y":0.48},{"x":20.1,"y":0.35},{"x":20,"y":0.0},{"x":18.76,"y":0.1},{"x":20.2,"y":0.1},{"x":19.6,"y":3.35},{"x":18.7,"y":3.19},{"x":18.9,"y":0.83},{"x":19.45,"y":0.86},{"x":19.65,"y":0.78},{"x":20.54,"y":2.84},{"x":20.83,"y":2.78},{"x":19.65,"y":0.03},{"x":21.75,"y":1.69},{"x":21.46,"y":1.44},{"x":21,"y":1.25},{"x":21.33,"y":0.46},
      {"x":20.2,"y":-0.21},{"x":21,"y":-0.26},{"x":19.5,"y":-0.42},{"x":20,"y":-0.59},{"x":18.65,"y":-0.64},{"x":18.3,"y":-0.37},{"x":18,"y":-0.53},{"x":17.5,"y":-0.8},{"x":17.55,"y":-1.02},{"x":17.2,"y":-1.02},{"x":18,"y":-1.02},{"x":20.5,"y":-0.82},{"x":20.6,"y":-0.97},{"x":21.56,"y":-0.58},{"x":20.7,"y":-1.25},{"x":19.6,"y":-1.46},{"x":17.55,"y":-1.49},{"x":20.5,"y":-1.63},{"x":17.8,"y":-1.79},{"x":17.5,"y":-1.8},{"x":19.5,"y":-2.11},{"x":20,"y":-2.11},{"x":18.65,"y":-2.27},{"x":18,"y":-2.06},{"x":20,"y":-2.67},{"x":17.2,"y":-3.19},{"x":20.36,"y":-3.26},{"x":18.3,"y":-3.6},{"x":17.5,"y":-3.6},{"x":18.5,"y":-4.5},{"x":16.35,"y":-0.1},{"x":16.25,"y":-0.26},{"x":16.65,"y":-0.27},{"x":16.5,"y":-0.75},{"x":17.75,"y":-0.75},{"x":17.33,"y":-0.83},{"x":19.45,"y":-0.75},{"x":20.7,"y":-0.7},{"x":17.96,"y":-2.62},{"x":17.4,"y":-1.5},{"x":17.6,"y":-1.44},{"x":16.98,"y":-1.79},
      {"x":22,"y":4.63},{"x":22,"y":4.41},{"x":22,"y":4.2},{"x":22,"y":4.15},{"x":22,"y":4.09},{"x":22,"y":4.03},{"x":22,"y":3.9},{"x":22,"y":3.71},{"x":22,"y":3.61},{"x":22,"y":3.42},{"x":22,"y":2.46},{"x":22,"y":1.98},{"x":22,"y":1.95},{"x":22,"y":1.85},{"x":22,"y":1.76},{"x":22,"y":1.23},{"x":22,"y":0.51},{"x":22,"y":0.45},{"x":22,"y":0.33},
      {"x":22.8,"y":4.35},{"x":23.2,"y":4.08},{"x":23.2,"y":3.81},{"x":23,"y":3.66},{"x":23.7,"y":3.51},{"x":23.3,"y":3.29},{"x":23.66,"y":4.87},{"x":24,"y":4.63},{"x":24.33,"y":5.11},{"x":24.5,"y":4.8},{"x":24.6,"y":2.98},{"x":24.1,"y":2.75},{"x":23.9,"y":2.57},{"x":25,"y":2.31},{"x":23.16,"y":2.33},{"x":22.78,"y":2.17},{"x":23.2,"y":2.04},{"x":24,"y":2.26},{"x":23.9,"y":1.82},{"x":24.33,"y":1.81},{"x":24.9,"y":2.01},{"x":25.6,"y":3.61},{"x":26,"y":5.16},{"x":26.05,"y":4.35},{"x":25.65,"y":2.42},{"x":25.65,"y":2.17},{"x":26.6,"y":2.4},{"x":26.4,"y":2.41},{"x":27,"y":2.66},{"x":27.2,"y":4.84},{"x":27.66,"y":3.11},{"x":29.5,"y":5.21},{"x":29.5,"y":4.92},{"x":30,"y":4.47},{"x":30.2,"y":4.09},{"x":30.9,"y":3.75},{"x":29.7,"y":3.35},{"x":29.3,"y":2.86},{"x":27.66,"y":1.66},{"x":26.8,"y":1.63},{"x":28.97,"y":1.44},{"x":29.57,"y":1.31},{"x":30,"y":1.3},{"x":28.4,"y":1.16},{"x":26.65,"y":1.13},{"x":26.7,"y":0.96},{"x":25.3,"y":1.05},{"x":26,"y":0.79},{"x":24.8,"y":0.67},{"x":25.3,"y":0.73},{"x":24.3,"y":0.41},{"x":29.95,"y":0.77},{"x":29.95,"y":0.58},{"x":29.3,"y":0.69},{"x":30.5,"y":0.42},{"x":30.6,"y":1.5},{"x":31.87,"y":5.97},{"x":22.34,"y":1.73},{"x":22.65,"y":1.33},{"x":23.23,"y":1.5},{"x":23.64,"y":1.25},{"x":23.64,"y":1.15},{"x":24.06,"y":2.78},{"x":25.6,"y":2.19},{"x":24.92,"y":2.02},{"x":26.74,"y":1.19},{"x":27,"y":1.1},{"x":23.4,"y":0.73},{"x":22.3,"y":0.68},{"x":24,"y":0.45},{"x":26,"y":0.1},{"x":26.3,"y":0.06},
      {"x":28,"y":5.64},{"x":28,"y":5.13},{"x":28,"y":5.0},{"x":28,"y":4.93},{"x":28,"y":4.84},{"x":28,"y":4.52},{"x":28,"y":4.46},{"x":28,"y":4.25},{"x":28,"y":4.03},{"x":28,"y":3.93},{"x":28,"y":3.83},{"x":28,"y":3.71},{"x":28,"y":3.37},{"x":28,"y":3.13},{"x":28,"y":0.64},{"x":28,"y":0.33},
      {"x":32,"y":2.88},{"x":32,"y":2.54},{"x":32,"y":2.03},{"x":32,"y":1.41},{"x":32,"y":1.09},{"x":32,"y":1.01},{"x":32,"y":0.35},{"x":32,"y":0.29},{"x":32,"y":0.14},{"x":32,"y":0.1},{"x":32,"y":-0.05},{"x":32,"y":-0.16},{"x":32,"y":-0.33},{"x":32,"y":-1.6},
      {"x":38,"y":5.19},{"x":38,"y":4.64},{"x":38,"y":4.13},
      {"x":22.6,"y":-1.31},{"x":23.7,"y":-1.57},{"x":24,"y":-0.16},{"x":25.6,"y":-0.35},{"x":25.65,"y":-0.65},{"x":26,"y":-0.56},{"x":26,"y":-0.85},{"x":26,"y":-0.2},{"x":26.65,"y":-0.93},{"x":27,"y":-0.12},{"x":27.15,"y":-1.22},{"x":28,"y":-0.29},{"x":28,"y":-0.99},{"x":28,"y":-1.57},{"x":28,"y":-2.24},{"x":28.66,"y":-0.77},{"x":29.1,"y":-0.22},{"x":30,"y":-0.16},{"x":30,"y":-0.99},{"x":29.4,"y":-2.59},{"x":27,"y":-3.35},{"x":31.45,"y":-1.25},{"x":31.3,"y":-0.67},{"x":33,"y":-1.63},{"x":24,"y":-0.42},{"x":24,"y":-0.65},{"x":28,"y":-0.68},{"x":31.77,"y":0.11},{"x":26,"y":-1.8},{"x":26,"y":-2.12},{"x":24,"y":-2.51}
    ],
    "privateFit": [{"x": 0, "y": 0.36}, {"x": 38, "y": 2.43}],
    "officialFit": [{"x": 0, "y": -2.25}, {"x": 39, "y": -2.86}]
  },
  "layer": [
    {
      "data": {"name": "official"},
      "mark": {"type": "circle", "size": 48, "fill": "#24527e", "fillOpacity": 0.19, "stroke": "#24527e", "strokeOpacity": 0.27, "strokeWidth": 1},
      "encoding": {
        "x": {
          "field": "x", "type": "quantitative",
          "scale": {"domain": [-0.752, 39.68], "nice": false, "zero": false},
          "axis": {
            "values": [0, 11, 23, 36],
            "labelExpr": "datum.value == 0 ? ['AAA', 'Prime'] : datum.value == 11 ? ['A-', 'Low risk'] : datum.value == 23 ? ['BB', 'Speculative'] : ['CC', 'Substantial risk']",
            "title": "Sovereign credit risk rating"
          }
        },
        "y": {
          "field": "y", "type": "quantitative",
          "scale": {"domain": [-6.325, 6.383], "nice": false, "zero": false},
          "axis": {
            "values": [-6, -4, -2, 0, 2, 4, 6],
            "labelExpr": "datum.value + '%'",
            "title": "Interest rate spread in percent"
          }
        }
      }
    },
    {
      "data": {"name": "private"},
      "mark": {"type": "circle", "size": 48, "fill": "#aa4545", "fillOpacity": 0.75, "stroke": "#8e2222", "strokeOpacity": 0.5, "strokeWidth": 1},
      "encoding": {
        "x": {"field": "x", "type": "quantitative"},
        "y": {"field": "y", "type": "quantitative"}
      }
    },
    {
      "data": {"values": [{}]},
      "mark": {"type": "rule", "color": "#b5b5b5", "strokeWidth": 2, "strokeDash": [17, 9]},
      "encoding": {"y": {"datum": 0}}
    },
    {
      "data": {"name": "privateFit"},
      "mark": {"type": "line", "color": "#c00000", "strokeWidth": 8, "strokeCap": "butt"},
      "encoding": {
        "x": {"field": "x", "type": "quantitative"},
        "y": {"field": "y", "type": "quantitative"}
      }
    },
    {
      "data": {"name": "officialFit"},
      "mark": {"type": "line", "color": "#1f4e79", "strokeWidth": 6, "strokeCap": "butt"},
      "encoding": {
        "x": {"field": "x", "type": "quantitative"},
        "y": {"field": "y", "type": "quantitative"}
      }
    },
    {
      "data": {"values": [{}]},
      "mark": {"type": "text", "text": "Private lending:", "font": "Liberation Serif", "fontSize": 29, "fontWeight": "bold", "color": "#b80000", "align": "left", "baseline": "alphabetic"},
      "encoding": {"x": {"datum": 2.02}, "y": {"datum": 4.83}}
    },
    {
      "data": {"values": [{}]},
      "mark": {"type": "text", "text": "Regression coefficient: 0.11***", "font": "Liberation Serif", "fontSize": 29, "color": "#b80000", "align": "left", "baseline": "alphabetic"},
      "encoding": {"x": {"datum": 2.02}, "y": {"datum": 4.24}}
    },
    {
      "data": {"values": [{}]},
      "mark": {"type": "text", "text": "Official lending:", "font": "Liberation Serif", "fontSize": 29, "fontWeight": "bold", "color": "#1f4e79", "align": "left", "baseline": "alphabetic"},
      "encoding": {"x": {"datum": 2.02}, "y": {"datum": -4.84}}
    },
    {
      "data": {"values": [{}]},
      "mark": {"type": "text", "text": "Regression coefficient: -0.03***", "font": "Liberation Serif", "fontSize": 29, "color": "#1f4e79", "align": "left", "baseline": "alphabetic"},
      "encoding": {"x": {"datum": 2.02}, "y": {"datum": -5.44}}
    },
    {
      "data": {"values": [{}]},
      "mark": {"type": "rect", "fill": "white", "stroke": "#c0504d", "strokeWidth": 4},
      "encoding": {"x": {"datum": 40.12}, "x2": {"datum": 50.77}, "y": {"datum": 3.757}, "y2": {"datum": 1.188}}
    },
    {
      "data": {"values": [{}]},
      "mark": {"type": "rect", "fill": "white", "stroke": "#c0504d", "strokeWidth": 4},
      "encoding": {"x": {"datum": 40.99}, "x2": {"datum": 51.21}, "y": {"datum": -2.626}, "y2": {"datum": -5.175}}
    },
    {
      "data": {"values": [{}]},
      "mark": {"type": "text", "text": ["Correlation", "= 0.11***"], "lineHeight": 57, "font": "Lato", "fontSize": 44, "color": "#000000", "align": "left", "baseline": "alphabetic"},
      "encoding": {"x": {"datum": 40.91}, "y": {"datum": 2.722}}
    },
    {
      "data": {"values": [{}]},
      "mark": {"type": "text", "text": ["Correlation", "= .-0.15***"], "lineHeight": 57, "font": "Lato", "fontSize": 44, "color": "#000000", "align": "left", "baseline": "alphabetic"},
      "encoding": {"x": {"datum": 41.78}, "y": {"datum": -3.642}}
    }
  ]
}
